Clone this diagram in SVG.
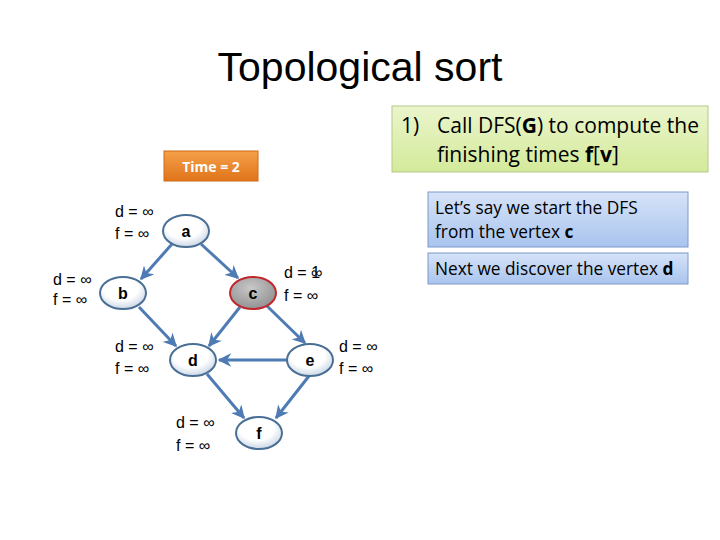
<svg xmlns="http://www.w3.org/2000/svg" width="720" height="540" viewBox="0 0 720 540">
<style>
.title{font-family:"Liberation Sans",Arial,sans-serif;font-size:41px;fill:#000}
.lbl{font-family:"Liberation Sans",Arial,sans-serif;font-size:16px;fill:#000}
.node{fill:url(#ng);stroke:#4a6f95;stroke-width:2}
.nodec{fill:url(#cg);stroke:#c0272d;stroke-width:2}
.nt{font-family:"Liberation Sans",Arial,sans-serif;font-size:16px;font-weight:bold;text-anchor:middle;fill:#000}
.edge{stroke:#4f7bb5;stroke-width:3;fill:none;marker-end:url(#ah)}
.box{font-family:"Open Sans","Liberation Sans",sans-serif;fill:#000}
</style>
<defs>
<radialGradient id="ng" cx="0.45" cy="0.35" r="0.75">
<stop offset="0.5" stop-color="#ffffff"/><stop offset="1" stop-color="#b8c8dc"/>
</radialGradient>
<radialGradient id="cg" cx="0.45" cy="0.35" r="0.75">
<stop offset="0" stop-color="#c8c8c8"/><stop offset="1" stop-color="#8a8a8a"/>
</radialGradient>
<linearGradient id="gg" x1="0" y1="0" x2="0" y2="1">
<stop offset="0" stop-color="#eaf5cc"/><stop offset="1" stop-color="#d4ea9a"/>
</linearGradient>
<linearGradient id="bg" x1="0" y1="0" x2="0" y2="1">
<stop offset="0" stop-color="#d6e3f8"/><stop offset="1" stop-color="#a9c4ee"/>
</linearGradient>
<linearGradient id="og" x1="0" y1="0" x2="0" y2="1">
<stop offset="0" stop-color="#f5a04a"/><stop offset="1" stop-color="#e0741a"/>
</linearGradient>
<marker id="ah" viewBox="0 0 10 10" refX="9" refY="5" markerWidth="4.5" markerHeight="4.5" orient="auto" markerUnits="strokeWidth">
<path d="M0,0 L10,5 L0,10 L3,5 Z" fill="#4f7bb5"/>
</marker>
</defs>
<rect width="720" height="540" fill="#fff"/>
<text class="title" x="360" y="81" text-anchor="middle">Topological sort</text>

<g id="box-step">
<rect x="392" y="106" width="316" height="66" fill="url(#gg)" stroke="#b5c98a" stroke-width="1"/>
<text class="box" x="401" y="133" font-size="21">1)<tspan x="437">Call DFS(<tspan font-weight="bold">G</tspan>) to compute the</tspan></text>
<text class="box" x="437" y="162" font-size="21">finishing times <tspan font-weight="bold">f</tspan>[<tspan font-weight="bold">v</tspan>]</text>
</g>
<g id="box-time">
<rect x="164" y="151" width="94" height="30" fill="url(#og)" stroke="#d06a15" stroke-width="1"/>
<text x="211" y="172" text-anchor="middle" font-family="'Open Sans','Liberation Sans',sans-serif" font-size="14" font-weight="bold" fill="#fff">Time = 2</text>
</g>
<g id="box-start">
<rect x="428" y="192" width="260" height="55" fill="url(#bg)" stroke="#7c9ac8" stroke-width="1"/>
<text class="box" x="435" y="214" font-size="17.3">Let’s say we start the DFS</text>
<text class="box" x="435" y="238" font-size="17.3">from the vertex <tspan font-weight="bold">c</tspan></text>
</g>
<g id="box-next">
<rect x="428" y="253" width="260" height="31" fill="url(#bg)" stroke="#7c9ac8" stroke-width="1"/>
<text class="box" x="435" y="275" font-size="17.3">Next we discover the vertex <tspan font-weight="bold">d</tspan></text>
</g>

<g id="edges">
<line class="edge" x1="172" y1="244" x2="141" y2="279"/>
<line class="edge" x1="201" y1="244" x2="238" y2="278"/>
<line class="edge" x1="139" y1="307" x2="176" y2="346"/>
<line class="edge" x1="240" y1="307" x2="209" y2="346"/>
<line class="edge" x1="267" y1="306" x2="305" y2="343"/>
<line class="edge" x1="287" y1="360" x2="219" y2="360"/>
<line class="edge" x1="207" y1="374" x2="244" y2="418"/>
<line class="edge" x1="309" y1="376" x2="276" y2="418"/>
</g>

<g id="node-a">
<ellipse class="node" cx="186" cy="231" rx="23" ry="16"/>
<text class="nt" x="186" y="237">a</text>
<text class="lbl" x="115" y="217">d = ∞</text>
<text class="lbl" x="115" y="239">f = ∞</text>
</g>
<g id="node-b">
<ellipse class="node" cx="123" cy="293" rx="23" ry="16"/>
<text class="nt" x="123" y="299">b</text>
<text class="lbl" x="53" y="285">d = ∞</text>
<text class="lbl" x="53" y="305">f = ∞</text>
</g>
<g id="node-c">
<ellipse class="nodec" cx="253" cy="293" rx="23" ry="16"/>
<text class="nt" x="253" y="299">c</text>
<text class="lbl" x="284" y="278">d = 1<tspan dx="-9">∞</tspan></text>
<text class="lbl" x="284" y="301">f = ∞</text>
</g>
<g id="node-d">
<ellipse class="node" cx="193" cy="360" rx="23" ry="16"/>
<text class="nt" x="193" y="366">d</text>
<text class="lbl" x="115" y="352">d = ∞</text>
<text class="lbl" x="115" y="374">f = ∞</text>
</g>
<g id="node-e">
<ellipse class="node" cx="310" cy="360" rx="23" ry="16"/>
<text class="nt" x="310" y="366">e</text>
<text class="lbl" x="339" y="352">d = ∞</text>
<text class="lbl" x="339" y="374">f = ∞</text>
</g>
<g id="node-f">
<ellipse class="node" cx="259" cy="433" rx="23" ry="16"/>
<text class="nt" x="259" y="439">f</text>
<text class="lbl" x="176" y="428">d = ∞</text>
<text class="lbl" x="176" y="451">f = ∞</text>
</g>
</svg>
